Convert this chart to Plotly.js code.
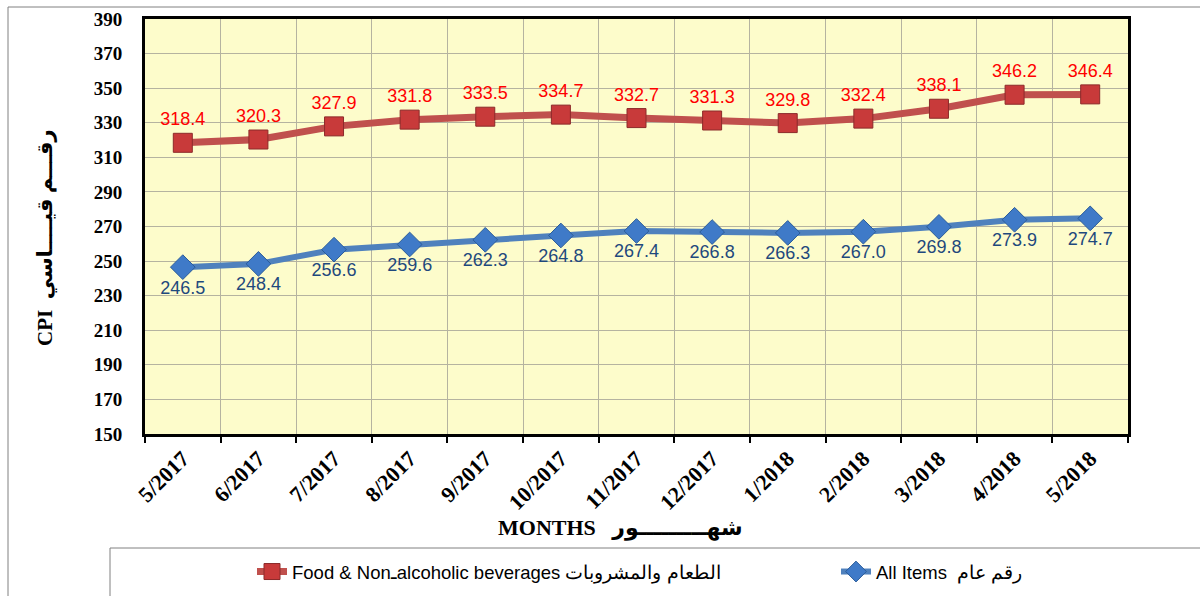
<!DOCTYPE html>
<html>
<head>
<meta charset="utf-8">
<script src="https://cdn.plot.ly/plotly-3.0.1.min.js"></script>
<style>html,body{margin:0;padding:0;background:#fff;}#chart{width:1200px;height:596px;}</style>
</head>
<body>
<div id="chart"></div>
<script>
const months = ["5/2017","6/2017","7/2017","8/2017","9/2017","10/2017","11/2017","12/2017","1/2018","2/2018","3/2018","4/2018","5/2018"];
const foodValues = [318.4,320.3,327.9,331.8,333.5,334.7,332.7,331.3,329.8,332.4,338.1,346.2,346.4];
const allItemsValues = [246.5,248.4,256.6,259.6,262.3,264.8,267.4,266.8,266.3,267.0,269.8,273.9,274.7];
const foodName = "Food & Non\u0640alcoholic beverages الطعام والمشروبات";
const allName = "All Items  رقم عام";
const yTitle = "CPI  رقـــم قيــــاسي";
const xTitle = "MONTHS   شهـــــــــور";

const W = 1200, H = 596, L = 145, R = 72, T = 19, B = 162;
const pw = W - L - R, ph = H - T - B;
const px = x => (x - L) / pw;
const py = y => (H - B - y) / ph;

const legendFont = {family: "Liberation Sans, Arial", size: 18.5, color: "#000"};

const traces = [
  {
    x: months, y: foodValues, name: foodName, type: "scatter", mode: "lines+markers+text",
    legend: "legend",
    text: foodValues.map(v => v.toFixed(1)), textposition: "top center",
    textfont: {family: "Liberation Sans, Arial", size: 18, color: "#FF0000"},
    line: {color: "#C0504D", width: 7},
    marker: {symbol: "square", size: 19, color: "#C83A3A", line: {color: "#8C2A2A", width: 1}},
    cliponaxis: false
  },
  {
    x: months, y: allItemsValues, name: allName, type: "scatter", mode: "lines+markers+text",
    legend: "legend2",
    text: allItemsValues.map(v => v.toFixed(1)), textposition: "bottom center",
    textfont: {family: "Liberation Sans, Arial", size: 18, color: "#1F497D"},
    line: {color: "#4F81BD", width: 6},
    marker: {symbol: "diamond", size: 19, color: "#3F7AC8", line: {color: "#2B5C99", width: 1}},
    cliponaxis: false
  }
];

const layout = {
  width: W, height: H,
  margin: {l: L, r: R, t: T, b: B, autoexpand: false},
  paper_bgcolor: "#FFFFFF",
  plot_bgcolor: "#FDFCCB",
  showlegend: true,
  legend: {
    orientation: "h", x: px(252), xanchor: "left", y: py(572), yanchor: "middle",
    font: legendFont, bgcolor: "rgba(0,0,0,0)", itemwidth: 30
  },
  legend2: {
    orientation: "h", x: px(836), xanchor: "left", y: py(572), yanchor: "middle",
    font: legendFont, bgcolor: "rgba(0,0,0,0)", itemwidth: 30
  },
  xaxis: {
    type: "category",
    tickson: "boundaries",
    ticks: "outside", ticklen: 6, tickwidth: 2, tickcolor: "#000",
    tickangle: -45,
    tickfont: {family: "Liberation Serif, Times New Roman", size: 22, color: "#000", weight: "bold"},
    showgrid: true, gridcolor: "#B5B3A0", gridwidth: 1,
    showline: true, linecolor: "#000", linewidth: 3, mirror: true,
    range: [-0.5, 12.5], fixedrange: true, automargin: false
  },
  yaxis: {
    range: [150, 390], dtick: 20, tick0: 150,
    ticks: "", ticklabelstandoff: 16,
    tickfont: {family: "Liberation Serif, Times New Roman", size: 19, color: "#000", weight: "bold"},
    showgrid: true, gridcolor: "#B5B3A0", gridwidth: 1,
    showline: true, linecolor: "#000", linewidth: 3, mirror: true,
    zeroline: false, fixedrange: true, automargin: false
  },
  annotations: [
    {
      xref: "paper", yref: "paper", x: px(45), y: py(238), xanchor: "center", yanchor: "middle",
      text: yTitle, textangle: -90, showarrow: false,
      font: {family: "Liberation Serif, DejaVu Sans", size: 21, color: "#000", weight: "bold"}
    },
    {
      xref: "paper", yref: "paper", x: px(620), y: py(528), xanchor: "center", yanchor: "middle",
      text: xTitle, showarrow: false,
      font: {family: "Liberation Serif, DejaVu Sans", size: 22, color: "#000", weight: "bold"}
    }
  ],
  shapes: [
    {type: "rect", xref: "paper", yref: "paper", x0: px(8), x1: px(1215), y0: py(610), y1: py(7),
     line: {color: "#808080", width: 1}, fillcolor: "rgba(0,0,0,0)", layer: "below"},
    {type: "rect", xref: "paper", yref: "paper", x0: px(110), x1: px(1215), y0: py(610), y1: py(548),
     line: {color: "#808080", width: 1}, fillcolor: "rgba(0,0,0,0)", layer: "below"}
  ]
};

Plotly.newPlot("chart", traces, layout, {displayModeBar: false, staticPlot: true});
</script>
</body>
</html>
